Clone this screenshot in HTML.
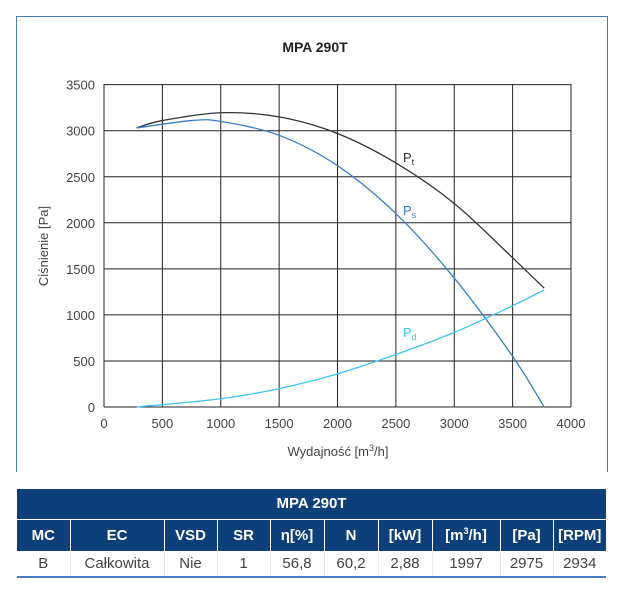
<!DOCTYPE html><html><head><meta charset="utf-8"><style>
body{margin:0;width:630px;height:600px;background:#fff;font-family:"Liberation Sans",sans-serif;position:relative;overflow:hidden}
table{position:absolute;left:17px;top:489px;width:589px;border-collapse:collapse;table-layout:fixed}
td{text-align:center;padding:0;font-size:15px}
.h td{background:#0d3f7a;color:#fff;font-weight:bold;border-left:1px solid #fff}
.d td{color:#444;border-left:1px solid #e8ecf2;background:#fff}
</style></head><body>
<div style="position:absolute;left:16px;top:16px;width:590px;height:455px;border:1px solid #4a7bbf;border-bottom:none"></div>
<svg width="630" height="600" style="position:absolute;left:0;top:0" id="s">
<text x="315" y="52" text-anchor="middle" font-size="14" font-weight="bold" fill="#222" font-family="Liberation Sans">MPA 290T</text>
<g id="g" stroke="#222" stroke-width="1" fill="none"></g>
<path id="pt" fill="none" stroke="#333" stroke-width="1.3"/>
<path id="ps" fill="none" stroke="#3b7dcc" stroke-width="1.3"/>
<path id="pd" fill="none" stroke="#3fc3f2" stroke-width="1.3"/>
<text x="403" y="162" font-size="13" fill="#333" font-family="Liberation Sans">P<tspan font-size="9" dy="3">t</tspan></text>
<text x="403" y="215" font-size="13" fill="#3b7dcc" font-family="Liberation Sans">P<tspan font-size="9" dy="3">s</tspan></text>
<text x="403" y="337" font-size="13" fill="#3fc3f2" font-family="Liberation Sans">P<tspan font-size="9" dy="3">d</tspan></text>
<text transform="translate(48,246) rotate(-90)" text-anchor="middle" font-size="13" fill="#444" font-family="Liberation Sans">Ciśnienie [Pa]</text>
<text x="338" y="456" text-anchor="middle" font-size="13" fill="#444" font-family="Liberation Sans">Wydajność [m<tspan font-size="9" dy="-5">3</tspan><tspan dy="5">/h]</tspan></text>
</svg>
<table>
<colgroup><col style="width:53px"><col style="width:94px"><col style="width:53px"><col style="width:53px"><col style="width:54px"><col style="width:54px"><col style="width:54px"><col style="width:68px"><col style="width:53px"><col style="width:53px"></colgroup>
<tr class="h" style="height:30px"><td colspan="10" style="border-left:none">MPA 290T</td></tr>
<tr class="h" style="height:32px;border-top:1px solid #fff"><td style="border-left:none">MC</td><td>EC</td><td>VSD</td><td>SR</td><td>η[%]</td><td>N</td><td>[kW]</td><td>[m<sup style="font-size:9px">3</sup>/h]</td><td>[Pa]</td><td>[RPM]</td></tr>
<tr class="d" style="height:26px;border-bottom:2px solid #4a7bbf"><td style="border-left:none">B</td><td>Całkowita</td><td>Nie</td><td>1</td><td>56,8</td><td>60,2</td><td>2,88</td><td>1997</td><td>2975</td><td>2934</td></tr>
</table>
<script>
var X=q=>104+q*0.11675,Y=p=>407-p*0.0921,g=document.getElementById('g'),s=document.getElementById('s'),h='';
for(var i=0;i<=8;i++){var x=X(i*500);h+='<line x1="'+x+'" y1="84" x2="'+x+'" y2="407"/>';
s.insertAdjacentHTML('beforeend','<text x="'+x+'" y="428" text-anchor="middle" font-size="13" fill="#444" font-family="Liberation Sans">'+i*500+'</text>');}
for(var j=0;j<=7;j++){var y=Y(j*500);h+='<line x1="104" y1="'+y+'" x2="571" y2="'+y+'"/>';
s.insertAdjacentHTML('beforeend','<text x="95" y="'+(y+5)+'" text-anchor="end" font-size="13" fill="#444" font-family="Liberation Sans">'+j*500+'</text>');}
g.innerHTML=h;
function cr(pts){pts=pts.map(p=>[X(p[0]),Y(p[1])]);var d='M'+pts[0];for(var i=0;i<pts.length-1;i++){var p0=pts[i-1]||pts[i],p1=pts[i],p2=pts[i+1],p3=pts[i+2]||p2;
d+='C'+(p1[0]+(p2[0]-p0[0])/6)+','+(p1[1]+(p2[1]-p0[1])/6)+' '+(p2[0]-(p3[0]-p1[0])/6)+','+(p2[1]-(p3[1]-p1[1])/6)+' '+p2;}return d;}
document.getElementById('pt').setAttribute('d',cr([[280,3030],[500,3110],[1000,3195],[1500,3150],[2000,2970],[2500,2650],[3000,2210],[3500,1620],[3770,1290]]));
document.getElementById('ps').setAttribute('d',cr([[280,3030],[750,3110],[1000,3100],[1500,2950],[2000,2620],[2500,2100],[3000,1400],[3500,550],[3770,0]]));
document.getElementById('pd').setAttribute('d',cr([[280,0],[1000,90],[1500,200],[2000,360],[2500,570],[3000,810],[3500,1100],[3770,1270]]));
</script>
</body></html>
